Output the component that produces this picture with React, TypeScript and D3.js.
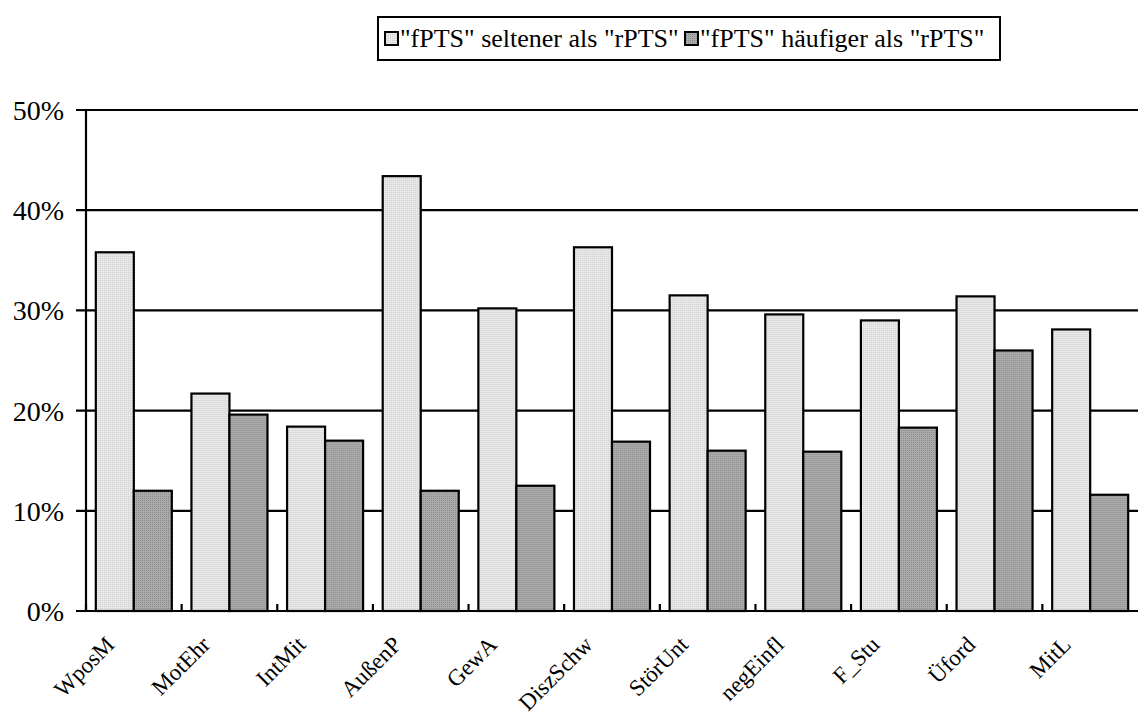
import React from "react";
import * as d3 from "d3";

const categories = ["WposM", "MotEhr", "IntMit", "AußenP", "GewA", "DiszSchw", "StörUnt", "negEinfl", "F_Stu", "Üford", "MitL"];
const seriesNames = ['"fPTS" seltener als "rPTS"', '"fPTS" häufiger als "rPTS"'];
const seltener = [35.8, 21.7, 18.4, 43.4, 30.2, 36.3, 31.5, 29.6, 29.0, 31.4, 28.1];
const haeufiger = [12.0, 19.6, 17.0, 12.0, 12.5, 16.9, 16.0, 15.9, 18.3, 26.0, 11.6];
const yTicks = [0, 10, 20, 30, 40, 50];

const W = 1139;
const H = 722;
const left = 86;
const right = 1138;
const top = 110;
const bottom = 611;
const FONT = "Liberation Serif, Times New Roman, serif";

export default function App() {
  const x = d3.scaleBand<string>().domain(categories).range([left, right]).paddingInner(0).paddingOuter(0);
  const x1 = d3.scaleBand<string>().domain(["a", "b"]).range([0, x.bandwidth()]).paddingInner(0).paddingOuter(0.258);
  const y = d3.scaleLinear().domain([0, 50]).range([bottom, top]);
  const fills = ["url(#patLight)", "url(#patDark)"];
  const data = [seltener, haeufiger];
  const txt = { fontFamily: FONT, fill: "#000" } as React.CSSProperties;

  return (
    <svg width={W} height={H} style={{ position: "absolute", left: 0, top: 0, background: "#fff" }}>
      <defs>
        <pattern id="patLight" width="2" height="2" patternUnits="userSpaceOnUse">
          <rect width="2" height="2" fill="#e8e8e8" />
          <rect width="1" height="1" fill="#cfcfcf" />
        </pattern>
        <pattern id="patDark" width="2" height="2" patternUnits="userSpaceOnUse">
          <rect width="2" height="2" fill="#ababab" />
          <rect width="1" height="1" fill="#8a8a8a" />
        </pattern>
      </defs>
      <rect width={W} height={H} fill="#fff" />
      {yTicks.map((t) => (
        <g key={t}>
          <line x1={left - 10} x2={right} y1={y(t)} y2={y(t)} stroke="#000" strokeWidth={2.2} />
          <text x={64} y={y(t) + 10} textAnchor="end" style={{ ...txt, fontSize: 28 }}>{t}%</text>
        </g>
      ))}
      {categories.map((c, i) => (
        <g key={c} transform={`translate(${x(c)},0)`}>
          {data.map((s, j) => (
            <rect
              key={j}
              x={x1(j === 0 ? "a" : "b")}
              y={y(s[i])}
              width={x1.bandwidth()}
              height={y(0) - y(s[i])}
              fill={fills[j]}
              stroke="#000"
              strokeWidth={2.2}
            />
          ))}
        </g>
      ))}
      <line x1={left} x2={left} y1={top} y2={bottom} stroke="#000" strokeWidth={2.2} />
      <line x1={left - 10} x2={right} y1={bottom} y2={bottom} stroke="#000" strokeWidth={2.2} />
      {categories.map((c) => (
        <line key={"t" + c} x1={x(c)} x2={x(c)} y1={bottom} y2={bottom - 7} stroke="#000" strokeWidth={2.2} />
      ))}
      {categories.map((c) => {
        const cx = (x(c) as number) + x.bandwidth() / 2 - 18;
        const cy = bottom + 35;
        return (
          <text key={"l" + c} x={cx} y={cy} transform={`rotate(-45,${cx},${cy})`} textAnchor="end" style={{ ...txt, fontSize: 23 }}>
            {c}
          </text>
        );
      })}
      <rect x={378} y={17} width={622} height={43} fill="#fff" stroke="#000" strokeWidth={2} />
      <rect x={385} y={32} width={13} height={13} fill={fills[0]} stroke="#000" strokeWidth={2} />
      <text x={400} y={47} style={{ ...txt, fontSize: 26 }}>{seriesNames[0]}</text>
      <rect x={685} y={32} width={13} height={13} fill={fills[1]} stroke="#000" strokeWidth={2} />
      <text x={700} y={47} style={{ ...txt, fontSize: 26 }}>{seriesNames[1]}</text>
    </svg>
  );
}
